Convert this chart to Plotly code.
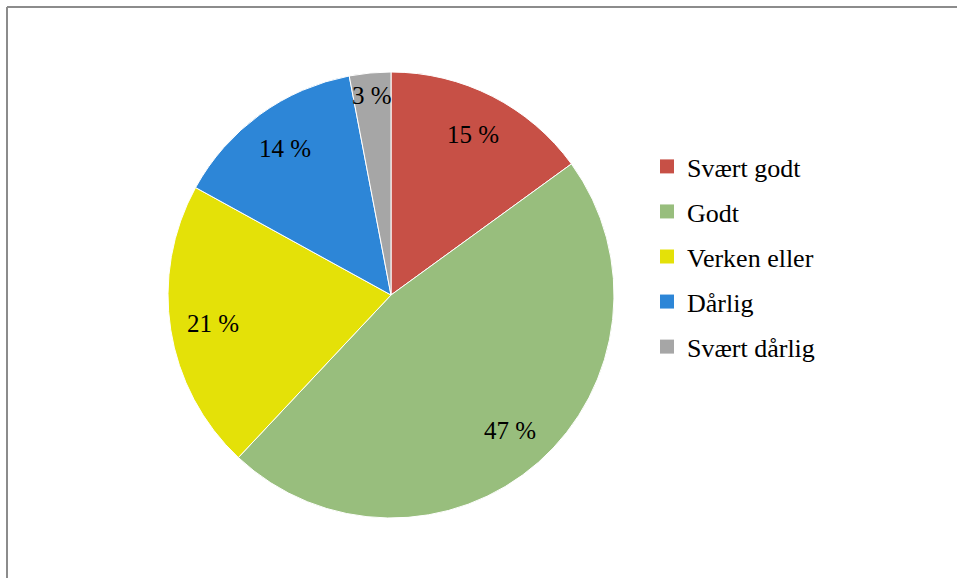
import math
import plotly.graph_objects as go

categories = ["Svært godt", "Godt", "Verken eller", "Dårlig", "Svært dårlig"]
values = [15, 47, 21, 14, 3]
colors = ["#C75046", "#98BE7D", "#E4E108", "#2D86D7", "#A6A6A6"]

W, H = 957, 578
FONT = "Liberation Serif, Times New Roman, serif"

# pie geometry (pixels)
CX, CY, R = 391, 295, 223

fig = go.Figure()
fig.add_trace(go.Pie(
    labels=categories,
    values=values,
    sort=False,
    direction="clockwise",
    rotation=0,
    marker=dict(colors=colors, line=dict(color="white", width=1)),
    textinfo="none",
    showlegend=False,
    hoverinfo="label+percent",
    domain=dict(x=[(CX - R) / W, (CX + R) / W], y=[1 - (CY + R) / H, 1 - (CY - R) / H]),
))

# data labels placed at slice mid-angles (computed from the values)
total = sum(values)
cum = 0
for v in values:
    mid = (cum + v / 2) / total * 2 * math.pi
    cum += v
    f = 0.81 if v / total > 0.05 else 0.9
    px = CX + f * R * math.sin(mid)
    py = CY - f * R * math.cos(mid)
    fig.add_annotation(
        x=px / W, y=1 - py / H, xref="paper", yref="paper",
        text=f"{v} %", showarrow=False,
        font=dict(family=FONT, size=25, color="black"),
        xanchor="center", yanchor="middle",
    )

for cat, col in zip(categories, colors):
    fig.add_trace(go.Scatter(
        x=[None], y=[None], mode="markers", name=cat,
        legendgroup=cat,
        marker=dict(symbol="square", size=14, color=col),
    ))

fig.update_layout(
    width=W, height=H,
    margin=dict(l=0, r=0, t=0, b=0),
    paper_bgcolor="white",
    plot_bgcolor="white",
    xaxis=dict(visible=False),
    yaxis=dict(visible=False),
    legend=dict(
        x=(687 - 40) / W, xanchor="left",
        y=1 - 143 / H, yanchor="top",
        font=dict(family=FONT, size=26, color="black"),
        traceorder="grouped",
        tracegroupgap=8.25,
        bgcolor="rgba(0,0,0,0)",
    ),
    shapes=[
        dict(type="line", xref="paper", yref="paper", x0=7 / W, x1=1, y0=1 - 7 / H, y1=1 - 7 / H,
             line=dict(color="#8C8C8C", width=2)),
        dict(type="line", xref="paper", yref="paper", x0=7 / W, x1=7 / W, y0=0, y1=1 - 7 / H,
             line=dict(color="#8C8C8C", width=2)),
    ],
)

fig.write_html("out.html", config={"displayModeBar": False},
               post_script="document.body.style.margin='0px';")
